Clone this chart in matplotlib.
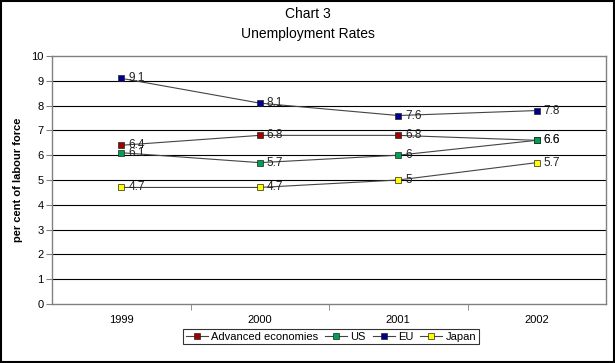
import matplotlib.pyplot as plt
import numpy as np

plt.rcParams['font.family'] = ['Liberation Sans', 'DejaVu Sans']

# Data
years = ["1999", "2000", "2001", "2002"]
advanced = [6.4, 6.8, 6.8, 6.6]
us = [6.1, 5.7, 6.0, 6.6]
eu = [9.1, 8.1, 7.6, 7.8]
japan = [4.7, 4.7, 5.0, 5.7]

series = [
    ("Advanced economies", advanced, "#A00000"),
    ("US", us, "#00A050"),
    ("EU", eu, "#000090"),
    ("Japan", japan, "#FFFF00"),
]

fig = plt.figure(figsize=(6.15, 3.63), dpi=100)
ax = fig.add_axes([52/615, 1-304/363, (606-52)/615, (304-56)/363])

x = np.arange(len(years))

# gridlines
for v in range(1, 10):
    ax.axhline(v, color="black", lw=0.8, zorder=1)

for name, vals, col in series:
    ax.plot(x, vals, color="#444444", lw=0.8, marker="s", markersize=4,
            markerfacecolor=col, markeredgecolor="#222222", markeredgewidth=0.5,
            label=name, zorder=3)
    for xi, v in zip(x, vals):
        ax.annotate(f"{v:g}", (xi, v), xytext=(5, 0), textcoords="offset points",
                    ha="left", va="center", fontsize=8.5, color="#222222", zorder=4)

ax.set_xlim(-0.5, 3.5)
ax.set_ylim(0, 10)
ax.set_yticks(range(0, 11))
ax.set_xticks(x)
ax.set_xticklabels(years)
ax.set_xticks([0.5, 1.5, 2.5], minor=True)
ax.tick_params(axis="x", which="major", length=0, pad=8, labelsize=8)
ax.tick_params(axis="x", which="minor", length=4, direction="out", color="#808080")
ax.tick_params(axis="y", length=4, direction="out", labelsize=8, pad=2, color="#808080")

for side in ["top", "right", "left", "bottom"]:
    ax.spines[side].set_color("#808080")
    ax.spines[side].set_linewidth(1.0)

ax.set_ylabel("per cent of labour force", fontsize=8, fontweight="bold", labelpad=6)

fig.text(0.5, 1-14/363, "Chart 3", ha="center", va="center", fontsize=10)
fig.text(0.5, 1-34/363, "Unemployment Rates", ha="center", va="center", fontsize=10)

leg = fig.legend(loc="center", bbox_to_anchor=(331/615, 1-336.5/363), ncol=4,
                 fontsize=8, frameon=True, fancybox=False, edgecolor="black",
                 handlelength=2.0, handletextpad=0.3, columnspacing=0.6,
                 borderpad=0.2, borderaxespad=0)
leg.get_frame().set_linewidth(0.8)

# outer border
fig.patches.append(plt.Rectangle((0.002, 0.003), 0.996, 0.994, transform=fig.transFigure,
                                 fill=False, edgecolor="black", lw=1.5))

fig.savefig("out.png", dpi=100)
